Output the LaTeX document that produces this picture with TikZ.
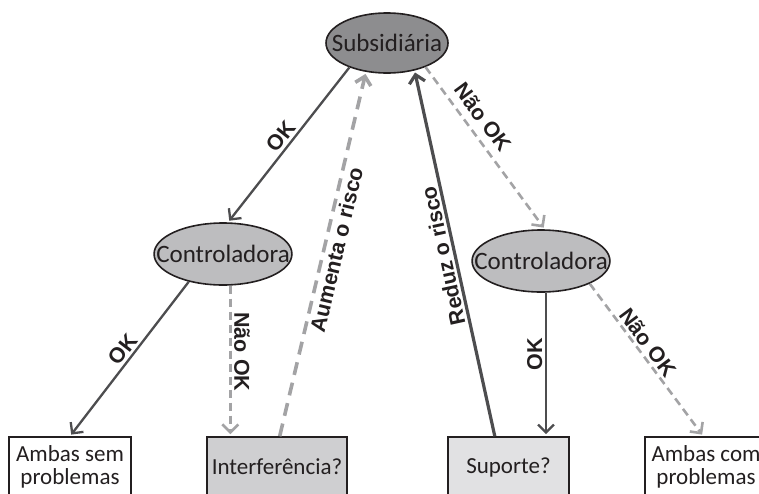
\documentclass[tikz,border=0pt]{standalone}
\usepackage{fontspec}
\setmainfont{Carlito}
\newfontfamily\lblfont{Liberation Sans}
\usetikzlibrary{arrows.meta,shapes.geometric}

\definecolor{subgray}{HTML}{8D8D8F}
\definecolor{ctlgray}{HTML}{BDBDBF}
\definecolor{intgray}{HTML}{CFCFD1}
\definecolor{supgray}{HTML}{E1E1E3}
\definecolor{darkline}{HTML}{4D4D4F}
\definecolor{dashgray}{HTML}{A3A3A5}
\definecolor{inkgray}{HTML}{231F20}

\tikzset{
  bubble/.style={ellipse, draw=inkgray, line width=1.6pt, inner xsep=-18pt, inner ysep=0pt,
    text=inkgray, font=\fontsize{25}{26}\selectfont},
  outbox/.style={rectangle, draw=inkgray, line width=1.6pt, inner sep=0pt,
    minimum height=60pt, align=center, text=inkgray,
    font=\fontsize{23}{23}\selectfont},
  lbl/.style={text=inkgray, inner sep=2.5pt, font=\lblfont\bfseries\fontsize{21.5}{23}\selectfont},
  barb/.style={-{Straight Barb[length=8pt,width=16pt]}, shorten >=2pt},
  okline/.style={barb, draw=darkline, line width=2.3pt},
  nokline/.style={barb, draw=dashgray, line width=2.6pt, dash pattern=on 8pt off 5pt},
  riskup/.style={barb, draw=dashgray, line width=3.6pt, dash pattern=on 13pt off 8pt},
  riskdown/.style={barb, draw=darkline, line width=3.2pt}
}

\begin{document}
\begin{tikzpicture}[x=1pt,y=-1pt]
    \clip (0,0) rectangle (759,493);
    % ellipses
    \node[bubble, fill=subgray, minimum width=122pt, minimum height=60pt] (sub) at (387,43) {Subsidiária};
    \node[bubble, fill=ctlgray, minimum width=137pt, minimum height=62pt] (ctlL) at (223,254) {Controladora};
    \node[bubble, fill=ctlgray, minimum width=137pt, minimum height=62pt] (ctlR) at (541,261) {Controladora};
    % outcome boxes
    \node[outbox, fill=white, minimum width=122pt] (ambSem) at (70,467) {Ambas sem\\problemas};
    \node[outbox, fill=intgray, minimum width=140pt] (interf) at (277,467) {Interferência?};
    \node[outbox, fill=supgray, minimum width=121pt] (suporte) at (508.5,467) {Suporte?};
    \node[outbox, fill=white, minimum width=122pt] (ambCom) at (706,467) {Ambas com\\problemas};
    % arrows from the subsidiary
    \draw[okline] (sub.213) -- node[lbl, sloped, above, pos=0.49] {OK} (ctlL.81);
    \draw[nokline] (sub.328) -- node[lbl, sloped, above=5pt, pos=0.37] {Não OK} (ctlR.83);
    % arrows back to the subsidiary
    \draw[riskup] (interf.85) -- node[lbl, sloped, below, pos=0.52] {Aumenta o risco} (sub.234);
    \draw[riskdown] (suporte.114) -- node[lbl, sloped, above, allow upside down, pos=0.5] {Reduz o risco} (sub.315);
    % arrows from the controllers
    \draw[okline] (ctlL.219) -- node[lbl, sloped, above, pos=0.48] {OK} (ambSem.north);
    \draw[nokline] (ctlL.283) -- node[lbl, rotate=-90, anchor=south, pos=0.44] {Não OK} (ctlL.283 |- interf.north);
    \draw[okline] (ctlR.279) -- node[lbl, rotate=90, anchor=south, pos=0.43] {OK} (ctlR.279 |- suporte.north);
    \draw[nokline] (ctlR.335) -- node[lbl, sloped, above, pos=0.43] {Não OK} (ambCom.95);
\end{tikzpicture}
\end{document}
